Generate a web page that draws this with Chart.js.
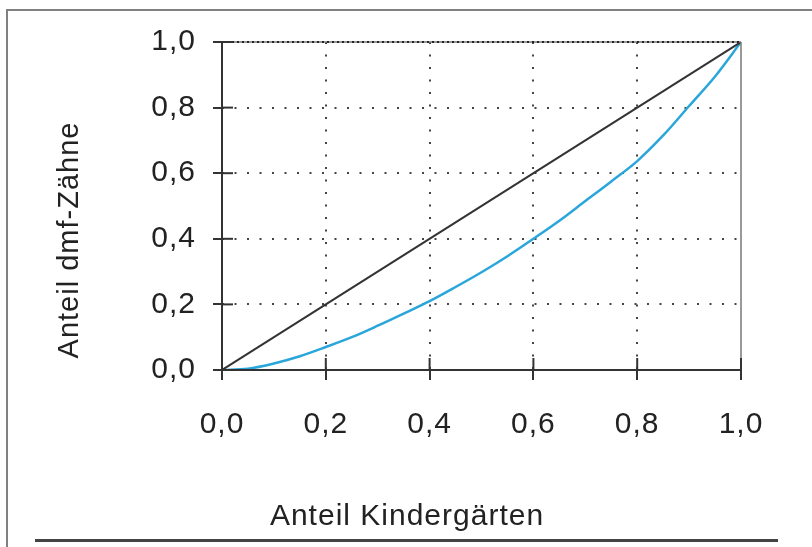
<!DOCTYPE html>
<html>
<head>
<meta charset="utf-8">
<script src="https://cdn.jsdelivr.net/npm/chart.js@4"></script>
<style>
  html, body { margin: 0; padding: 0; background: #fff; }
  #wrap { position: relative; width: 812px; height: 547px; overflow: hidden; }
  #frameTop { position: absolute; left: 6px; top: 9px; width: 806px; height: 2px; background: #808080; }
  #frameLeft { position: absolute; left: 6px; top: 9px; width: 2px; height: 538px; background: #808080; }
  #frameBottom { position: absolute; left: 35px; top: 539px; width: 743px; height: 3px; background: #444; }
  canvas { position: absolute; left: 0; top: 0; }
</style>
</head>
<body>
<div id="wrap">
  <canvas id="lorenz" width="812" height="547"></canvas>
  <div id="frameTop"></div>
  <div id="frameLeft"></div>
  <div id="frameBottom"></div>
</div>
<script>
// Lorenz curve: share of kindergartens vs. share of dmf teeth
const shareKiga = [0, 0.05, 0.1, 0.15, 0.2, 0.25, 0.3, 0.35, 0.4, 0.45, 0.5,
                   0.55, 0.6, 0.65, 0.7, 0.75, 0.8, 0.85, 0.9, 0.95, 1.0];
const shareDmf = [0, 0.004, 0.02, 0.042, 0.07, 0.10, 0.135, 0.172, 0.21, 0.253, 0.298,
                  0.347, 0.40, 0.455, 0.515, 0.575, 0.637, 0.715, 0.805, 0.895, 1.0];
const equalityX = [0, 1];
const equalityY = [0, 1];
const tickValues = [0, 0.2, 0.4, 0.6, 0.8, 1.0];
const xTitle = 'Anteil Kindergärten';
const yTitle = 'Anteil dmf-Zähne';

const fmt = v => v.toFixed(1).replace('.', ',');
const FONT = 'Liberation Sans, Arial, sans-serif';

// the reference font is a bit wider than Arial -> widen slightly via letter spacing
const wideText = {
  id: 'wideText',
  beforeInit(chart) { chart.ctx.letterSpacing = '1px'; },
  beforeLayout(chart) { chart.ctx.letterSpacing = '1px'; },
  beforeDraw(chart) { chart.ctx.letterSpacing = '1px'; },
};

// axis titles sit off-centre in the original (x title centred on the page)
const axisTitles = {
  id: 'axisTitles',
  afterDraw(chart) {
    const ctx = chart.ctx;
    ctx.save();
    ctx.fillStyle = '#222';
    ctx.textAlign = 'center';
    ctx.textBaseline = 'middle';
    ctx.font = '30px ' + FONT;
    ctx.fillText(xTitle, 407, 517);
    ctx.translate(70, 240);
    ctx.rotate(-Math.PI / 2);
    ctx.font = '29px ' + FONT;
    ctx.fillText(yTitle, 0, 0);
    ctx.restore();
  }
};

// inner half of the tick marks + plot border
const crossTicks = {
  id: 'crossTicks',
  afterDraw(chart) {
    const { ctx, chartArea: a, scales: { x, y } } = chart;
    ctx.save();
    // top border: solid grey with dense dots on it
    ctx.strokeStyle = '#777';
    ctx.lineWidth = 1.5;
    ctx.beginPath();
    ctx.moveTo(a.left, a.top);
    ctx.lineTo(a.right, a.top);
    ctx.stroke();
    ctx.strokeStyle = '#222';
    ctx.setLineDash([2, 3]);
    ctx.lineWidth = 2;
    ctx.beginPath();
    ctx.moveTo(a.left, a.top);
    ctx.lineTo(a.right, a.top);
    ctx.stroke();
    ctx.setLineDash([]);
    // right border
    ctx.strokeStyle = '#777';
    ctx.lineWidth = 1.5;
    ctx.beginPath();
    ctx.moveTo(a.right, a.top);
    ctx.lineTo(a.right, a.bottom);
    ctx.stroke();
    // axes
    ctx.strokeStyle = '#333';
    ctx.lineWidth = 2;
    ctx.beginPath();
    ctx.moveTo(a.left, a.top);
    ctx.lineTo(a.left, a.bottom);
    ctx.lineTo(a.right, a.bottom);
    ctx.stroke();
    // inside ticks
    tickValues.forEach(v => {
      const px = x.getPixelForValue(v);
      ctx.beginPath();
      ctx.moveTo(px, a.bottom);
      ctx.lineTo(px, a.bottom - 12);
      ctx.stroke();
      const py = y.getPixelForValue(v);
      ctx.beginPath();
      ctx.moveTo(a.left, py);
      ctx.lineTo(a.left + 11, py);
      ctx.stroke();
    });
    ctx.restore();
  }
};

const gridColor = ctx => (ctx.tick && (ctx.tick.value === 0 || ctx.tick.value === 1)) ? 'rgba(0,0,0,0)' : '#444';

new Chart(document.getElementById('lorenz'), {
  type: 'scatter',
  data: {
    datasets: [
      {
        label: 'Gleichverteilung',
        data: equalityX.map((v, i) => ({ x: v, y: equalityY[i] })),
        showLine: true,
        borderColor: '#333',
        borderWidth: 2,
        pointRadius: 0,
      },
      {
        label: 'Lorenzkurve',
        data: shareKiga.map((v, i) => ({ x: v, y: shareDmf[i] })),
        showLine: true,
        borderColor: '#2aa6da',
        borderWidth: 2.5,
        pointRadius: 0,
        cubicInterpolationMode: 'monotone',
      },
    ],
  },
  options: {
    responsive: false,
    animation: false,
    layout: { padding: { top: 42, right: 71, left: 0, bottom: 0 } },
    plugins: { legend: { display: false }, tooltip: { enabled: false } },
    scales: {
      x: {
        type: 'linear', min: 0, max: 1,
        afterFit: s => { s.height = 177; },
        afterBuildTicks: s => { s.ticks = tickValues.map(v => ({ value: v })); },
        border: { display: false, dash: [2, 10.5] },
        grid: {
          color: gridColor,
          lineWidth: 2,
          tickLength: 10,
          tickColor: '#333',
          tickWidth: 2,
          tickBorderDash: [],
        },
        ticks: {
          padding: 27,
          color: '#222',
          font: { family: FONT, size: 30 },
          callback: v => fmt(v),
        },
      },
      y: {
        type: 'linear', min: 0, max: 1,
        afterFit: s => { s.width = 222; },
        afterBuildTicks: s => { s.ticks = tickValues.map(v => ({ value: v })); },
        border: { display: false, dash: [2, 10.5] },
        grid: {
          color: gridColor,
          lineWidth: 2,
          tickLength: 9,
          tickColor: '#333',
          tickWidth: 2,
          tickBorderDash: [],
        },
        ticks: {
          padding: 17,
          color: '#222',
          font: { family: FONT, size: 30 },
          callback: v => fmt(v),
        },
      },
    },
  },
  plugins: [wideText, crossTicks, axisTitles],
});
</script>
</body>
</html>
